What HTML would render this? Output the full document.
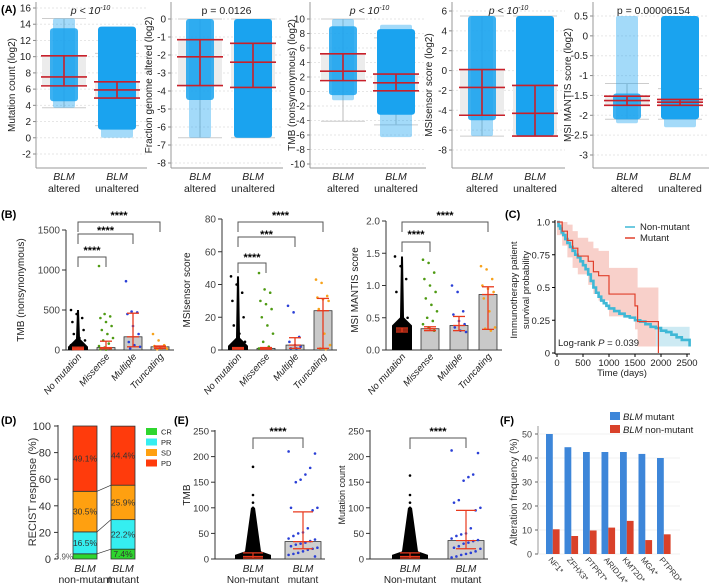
<!DOCTYPE html>
<html><head><meta charset="utf-8">
<style>
html,body{margin:0;padding:0;background:#fff;}
svg{display:block;font-family:"Liberation Sans",Arial,sans-serif;}
</style></head>
<body>
<svg id="fig" width="709" height="586" viewBox="0 0 709 586" xmlns="http://www.w3.org/2000/svg"></svg>
<script>
// ===== Panel A data: [whiskerLo, q1, median, q3, whiskerHi, pointsLo, pointsHi]
const aTitles = ["Mutation count (log2)","Fraction genome altered (log2)","TMB (nonsynonymous) (log2)","MSIsensor score (log2)","MSI MANTIS score (log2)"];
const aPvals = ["p < 10","p = 0.0126","p < 10","p < 10","p = 0.00006154"];
const aAltered = [[3.7,6.4,7.5,10.1,14.7,3.7,14.7],[-6.6,-3.7,-2.1,-1.15,0,-6.6,0],[-4.1,1.5,2.8,5.2,10,-1.2,10],[-6.6,-4.5,-1.7,0.1,5.5,-6.6,5.5],[-2.1,-1.75,-1.63,-1.52,-1.2,-2.2,0.5]];
const aUnaltered = [[1.5,4.9,5.9,6.9,10.4,0,13.7],[-6.6,-3.8,-2.4,-1.35,0,-6.6,0],[-4.6,0.1,1.2,2.4,7.4,-6.3,9.2],[-6.6,-6.6,-4.3,-1.5,5.5,-6.6,5.5],[-2.1,-1.75,-1.67,-1.6,-1.33,-2.3,0.5]];
const aAltDense = [[4.5,13.5],[-4.5,0],[-0.5,9],[-5,5.5],[-2.1,-1.45]];
const aUnDense = [[1,13.7],[-6.6,0],[-3.2,8.6],[-6.6,5.5],[-2.1,0.5]];
const aTicks = [[-2,0,2,4,6,8,10,12,14,16],[-8,-7,-6,-5,-4,-3,-2,-1,0],[-10,-8,-6,-4,-2,0,2,4,6,8,10],[-8,-6,-4,-2,0,2,4,6],[-3,-2.5,-2,-1.5,-1,-0.5,0,0.5]];
// ===== Panel B data
const bCats = ["No mutation","Missense","Multiple","Truncating"];
const b1Bars = [20,30,165,40], b1ErrLo=[5,15,40,20], b1ErrHi=[35,110,460,50];
const b2Bars = [1,1,3,24], b2ErrLo=[0.5,0.5,1,1], b2ErrHi=[1.5,1.5,7.5,31.5];
const b3Bars = [0.31,0.33,0.38,0.86], b3ErrLo=[0.28,0.3,0.3,0.32], b3ErrHi=[0.34,0.36,0.52,0.98];
const b1Dots = [[500,450,400,350,300,250,200,150,120,100,80,60,40,20,10],[1050,450,420,400,350,300,250,200,150,120,80,50,30,20,10,5],[860,480,470,450,300,200,100,60,40,20],[200,120,60,50,40,30,25,20,15,10]];
const b2Dots = [[45,40,35,30,25,20,15,10,5,2],[47,37,35,30,28,25,20,15,10,5,2,1],[27,23,8,5,3,2,1,1],[43,41,33,32,31,30,25,10,3,1,0.5]];
const b3Dots = [[1.45,1.3,1.1,0.9,0.7,0.5,0.4,0.2],[1.4,1.35,1.2,1.1,1.0,0.9,0.8,0.7,0.6,0.5,0.45,0.4,0.35,0.3],[1.0,0.9,0.6,0.55,0.45,0.4,0.35,0.3,0.28],[1.3,1.25,1.1,1.0,0.95,0.9,0.8,0.6,0.35,0.33,0.3]];
const bBlackTop = [500,45,1.45], bBlackBase=[40,2.5,0.38];
// ===== Panel C data
const cNonT = [0,30,60,90,120,160,200,250,300,350,400,450,500,550,600,650,700,750,800,850,900,950,1000,1100,1200,1300,1400,1500,1600,1700,1800,1900,2000,2100,2200,2300,2400,2550];
const cNonS = [1,0.97,0.95,0.92,0.9,0.87,0.84,0.81,0.78,0.75,0.73,0.7,0.67,0.64,0.6,0.55,0.5,0.46,0.43,0.4,0.38,0.36,0.34,0.32,0.3,0.28,0.27,0.25,0.24,0.22,0.2,0.19,0.17,0.16,0.14,0.12,0.1,0.05];
const cMutT = [0,100,200,300,400,600,700,800,1000,1500,1550,1950];
const cMutS = [1,0.93,0.86,0.8,0.74,0.7,0.62,0.59,0.45,0.36,0.24,0];
const cMutLo = [0.9,0.82,0.73,0.65,0.6,0.52,0.45,0.4,0.28,0.18,0.05,0];
const cMutHi = [1,1,0.98,0.93,0.88,0.85,0.8,0.78,0.65,0.65,0.5,0.5];
// ===== Panel D data
const dGroups = ["non-mutant","mutant"];
const dCR = [3.9,7.4], dPR=[16.5,22.2], dSD=[30.5,25.9], dPD=[49.1,44.4];
// ===== Panel E data
const e1Bar = [5,34], e1Lo=[2,20], e1Hi=[12,92];
const e1Mut = [210,206,178,165,155,150,100,100,95,60,52,50,45,40,38,35,32,30,28,25,22,20,18,15,12,10,8,5];
const e2Bar = [5,36], e2Lo=[2,20], e2Hi=[12,95];
const e2Mut = [212,207,165,160,153,115,110,100,95,60,50,48,45,40,37,35,32,30,25,22,20,15,12,10,8,5,3];
const e1NonTail=[180,125,110,100,90,80,70,60,50,40], e2NonTail=[163,125,110,100,90,80,70,60,50,40];
// ===== Panel F data
const fGenes = ["NF1*","ZFHX3*","PTPRT*","ARID1A*","KMT2D*","MGA*","PTPRD*"];
const fMut = [50,44.5,42.5,42.5,42.5,41.7,40];
const fNon = [10.3,7.5,9.8,11,13.8,5.8,8.2];
const fTicks=[0,10,20,30,40,50];

const NS="http://www.w3.org/2000/svg";
const svg=document.getElementById('fig');
function el(tag,attrs,parent,text){const e=document.createElementNS(NS,tag);for(const k in attrs)e.setAttribute(k,attrs[k]);if(text!==undefined)e.textContent=text;(parent||svg).appendChild(e);return e;}
function lin(d0,d1,r0,r1){return v=>r0+(v-d0)*(r1-r0)/(d1-d0);}
function grp(name){const g=el('g',{});return g;}
function txt(p,x,y,s,opt){opt=opt||{};const t=el('text',{x:x,y:y,'font-size':opt.fs||10,'text-anchor':opt.a||'middle',fill:opt.fill||'#222'},p,s);if(opt.it)t.setAttribute('font-style','italic');if(opt.fw)t.setAttribute('font-weight',opt.fw);if(opt.rot)t.setAttribute('transform','rotate('+opt.rot+' '+x+' '+y+')');return t;}
function panelLabel(s,x,y){const t=txt(svg,x,y,s,{a:'start',fs:11,fw:'bold',fill:'#000'});}

// ===== Panel A
panelLabel('(A)',1,13);
const aCfg=[{ax:36,lx:15,dom:[16,-2],rng:[8,154],c:[64,117]},{ax:171,lx:152,dom:[0,-8],rng:[19,163],c:[200,253]},{ax:310,lx:295,dom:[10,-10],rng:[19,164],c:[343,396]},{ax:452,lx:432,dom:[6,-8],rng:[11,150],c:[482,535]},{ax:593,lx:571,dom:[0.5,-3],rng:[16,155],c:[627,680]}];
aCfg.forEach((cf,i)=>{
  const g=grp('panel-a-plot-'+(i+1));
  const y=lin(cf.dom[0],cf.dom[1],cf.rng[0],cf.rng[1]);
  const x0=cf.ax, x1=Math.max(cf.ax+106,cf.c[1]+30), yb=168;
  aTicks[i].forEach(t=>{el('line',{x1:x0,x2:x1,y1:y(t),y2:y(t),stroke:'#e6e6e6','stroke-dasharray':'2,2'},g);el('line',{x1:x0-3,x2:x0,y1:y(t),y2:y(t),stroke:'#888'},g);txt(g,x0-5,y(t)+3.5,String(t),{a:'end',fs:10});});
  el('line',{x1:x0,x2:x0,y1:2,y2:yb,stroke:'#999'},g);
  el('line',{x1:x0,x2:x1,y1:yb,y2:yb,stroke:'#999'},g);
  [aAltered[i],aUnaltered[i]].forEach((s,k)=>{
    const cx=cf.c[k], w=k?38:28, dn=k?aUnDense[i]:aAltDense[i];
    el('rect',{x:cx-22,y:y(s[3]),width:44,height:y(s[1])-y(s[3]),fill:'#ececec'},g);
    el('line',{x1:cx,x2:cx,y1:y(s[0]),y2:y(s[4]),stroke:'#bbb'},g);
    el('line',{x1:cx-22,x2:cx+22,y1:y(s[0]),y2:y(s[0]),stroke:'#ccc'},g);
    el('line',{x1:cx-22,x2:cx+22,y1:y(s[4]),y2:y(s[4]),stroke:'#ccc'},g);
    el('rect',{x:cx-w/2+3,y:y(s[6]),width:w-6,height:y(s[5])-y(s[6]),fill:'#1aa3ef',rx:2,opacity:0.4},g);
    const pts=el('rect',{x:cx-w/2,y:y(dn[1]),width:w,height:y(dn[0])-y(dn[1]),fill:'#1aa3ef',rx:3,opacity:k?1:0.85},g);
    
    [s[1],s[2],s[3]].forEach(v=>el('line',{x1:cx-23,x2:cx+23,y1:y(v),y2:y(v),stroke:'#c8202a','stroke-width':1.6},g));
    el('line',{x1:cx,x2:cx,y1:y(s[3]),y2:y(s[1]),stroke:'#c8202a','stroke-width':1.6},g);
    txt(g,cx,180,'BLM',{it:1,fs:10.5});
    txt(g,cx,192,k?'unaltered':'altered',{fs:10.5});
  });
  txt(g,cf.lx,85,aTitles[i],{rot:-90,fs:10});
  const pt=txt(g,(cf.c[0]+cf.c[1])/2,14,aPvals[i],{fs:10.5});
  if(aPvals[i]==='p < 10'){pt.setAttribute('font-style','italic');el('tspan',{dy:-4,'font-size':7},pt,'-10');}
});

// ===== Panel B
panelLabel('(B)',1,218);
const bCfg=[{ax:66,dom:[0,1500],rng:[350,230],ticks:[0,500,1000,1500],c:[78,106,133,160],bars:b1Bars,lo:b1ErrLo,hi:b1ErrHi,dots:b1Dots,lab:'TMB (nonsynonymous)',lx:24,
  br:[[3,213,222,'****'],[2,228,234,'****'],[1,248,257,'****']]},
 {ax:222,dom:[0,80],rng:[350,219],ticks:[0,20,40,60,80],c:[238,266,295,323],bars:b2Bars,lo:b2ErrLo,hi:b2ErrHi,dots:b2Dots,lab:'MSIsensor score',lx:190,
  br:[[3,213,222,'****'],[2,232,237,'***'],[1,255,263,'****']]},
 {ax:386,dom:[0,2],rng:[350,221],ticks:[0,0.5,1,1.5,2],tf:['0.0','0.5','1.0','1.5','2.0'],c:[402,430,459,488],bars:b3Bars,lo:b3ErrLo,hi:b3ErrHi,dots:b3Dots,lab:'MSI MANTIS score',lx:358,
  br:[[3,213,222,'****'],[1,232,242,'****']]}];
const dotCol=['#000','#4e9a12','#2a3fd6','#f7a21b'];
bCfg.forEach((cf,i)=>{
  const g=grp('panel-b-plot-'+(i+1));
  const y=lin(cf.dom[0],cf.dom[1],cf.rng[0],cf.rng[1]);
  el('line',{x1:cf.ax,x2:cf.ax,y1:cf.rng[1],y2:350,stroke:'#333'},g);
  el('line',{x1:cf.ax,x2:cf.c[3]+14,y1:350,y2:350,stroke:'#333'},g);
  cf.ticks.forEach((t,j)=>{el('line',{x1:cf.ax-4,x2:cf.ax,y1:y(t),y2:y(t),stroke:'#333'},g);txt(g,cf.ax-6,y(t)+3.5,cf.tf?cf.tf[j]:String(t),{a:'end',fs:10,fill:'#444'});});
  cf.c.forEach((cx,k)=>{
    const b=el('rect',{x:cx-9,y:y(cf.bars[k]),width:18,height:350-y(cf.bars[k]),fill:'#c9c9c9',stroke:'#333','stroke-width':0.8},g);
    
    if(k===0){
      const yb=y(bBlackBase[i]), yt=y(bBlackTop[i]);
      el('path',{d:`M${cx-10},350V${yb}L${cx-2},${yb-8}L${cx-1},${yt}H${cx+1}L${cx+2},${yb-8}L${cx+10},${yb}V350Z`,fill:'#000'},g);
    }
    cf.dots[k].forEach((v,j)=>{const jx=(((j*37)%11)-5)*1.4;el('circle',{cx:cx+jx,cy:y(v),r:1.3,fill:dotCol[k]},g);});
    el('line',{x1:cx,x2:cx,y1:y(cf.hi[k]),y2:y(cf.lo[k]),stroke:'#e8391d','stroke-width':1.3},g);
    [cf.hi[k],cf.lo[k]].forEach(v=>el('line',{x1:cx-6,x2:cx+6,y1:y(v),y2:y(v),stroke:'#e8391d','stroke-width':1.3},g));
    el('line',{x1:cx-6,x2:cx+6,y1:y(cf.bars[k]),y2:y(cf.bars[k]),stroke:'#e8391d','stroke-width':1.3},g);
    txt(g,cx+4,357,bCats[k],{a:'end',it:1,fs:9.5,rot:-48});
  });
  cf.br.forEach(b=>{const x1=cf.c[0],x2=cf.c[b[0]];el('path',{d:`M${x1},${b[2]+10}V${b[2]}H${x2}V${b[2]+10}`,fill:'none',stroke:'#555'},g);txt(g,(x1+x2)/2,b[1]+6,b[3],{fs:11,fw:'bold',fill:'#000'});});
  txt(g,cf.lx,290,cf.lab,{rot:-90,fs:10});
});

// ===== Panel C
panelLabel('(C)',505,218);
(function(){
  const g=grp('panel-c-survival');
  const x=lin(0,2500,557,687), y=lin(0,1,353,222);
  function step(T,S){let d=`M${x(T[0])},${y(S[0])}`;for(let i=1;i<T.length;i++){d+=`H${x(T[i])}V${y(S[i])}`;}return d;}
  let up=`M${x(cMutT[0])},${y(cMutHi[0])}`;for(let i=1;i<cMutT.length;i++)up+=`H${x(cMutT[i])}V${y(cMutHi[i])}`;
  let lo='';for(let i=cMutT.length-1;i>=0;i--){lo+=`V${y(cMutLo[i])}H${x(cMutT[i])}`;}
  el('path',{d:up+`H${x(1950)}`+lo+'Z',fill:'#f6c4bd',opacity:0.8},g);
  el('rect',{x:x(1900),y:y(0.2),width:x(2550)-x(1900),height:y(0.05)-y(0.2),fill:'#cdeaf3'},g);
  const pn=el('path',{d:step(cNonT,cNonS),fill:'none',stroke:'#3fb8d6','stroke-width':2.6},g);
  
  const pm=el('path',{d:step(cMutT,cMutS),fill:'none',stroke:'#e0402c','stroke-width':1.2},g);
  
  el('line',{x1:555,x2:555,y1:220,y2:354,stroke:'#000'},g);
  el('line',{x1:555,x2:690,y1:354,y2:354,stroke:'#000'},g);
  [[0,'0'],[0.25,'0.25'],[0.5,'0.5'],[0.75,'0.75'],[1,'1.0']].forEach(t=>{el('line',{x1:552,x2:555,y1:y(t[0]),y2:y(t[0]),stroke:'#000'},g);txt(g,550,y(t[0])+3.5,t[1],{a:'end',fs:9.5});});
  [0,500,1000,1500,2000,2500].forEach(t=>{el('line',{x1:x(t),x2:x(t),y1:354,y2:357,stroke:'#000'},g);txt(g,x(t),366,String(t),{fs:9.5});});
  txt(g,622,376,'Time (days)',{fs:9.5});
  txt(g,517,290,'Immunotherapy patient',{rot:-90,fs:9.5});
  txt(g,529,290,'survival probability',{rot:-90,fs:9.5});
  el('line',{x1:625,x2:635,y1:227,y2:227,stroke:'#3fb8d6','stroke-width':1.5},g);txt(g,640,230,'Non-mutant',{a:'start',fs:9.5});
  el('line',{x1:625,x2:635,y1:238,y2:238,stroke:'#e0402c','stroke-width':1.5},g);txt(g,640,241,'Mutant',{a:'start',fs:9.5});
  const lr=txt(g,558,346,'Log-rank ',{a:'start',fs:9.5});el('tspan',{'font-style':'italic'},lr,'P');el('tspan',{},lr,' = 0.039');
})();

// ===== Panel D
panelLabel('(D)',1,424);
(function(){
  const g=grp('panel-d-recist');
  const y=lin(0,100,559,426), cxs=[85,123];
  el('line',{x1:58,x2:58,y1:425,y2:559,stroke:'#333'},g);
  [0,20,40,60,80,100].forEach(t=>{el('line',{x1:54,x2:58,y1:y(t),y2:y(t),stroke:'#333'},g);txt(g,51,y(t)+4,String(t),{a:'end',fs:11,fill:'#333'});});
  txt(g,36,492,'RECIST response (%)',{rot:-90,fs:11,fill:'#333'});
  const cols=['#2ed62e','#35eef0','#ffa010','#ff3b0c'], names=['CR','PR','SD','PD'];
  const series=[dCR,dPR,dSD,dPD];
  const tops=[[],[]];
  cxs.forEach((cx,k)=>{let acc=0;series.forEach((s,j)=>{const r=el('rect',{x:cx-12,y:y(acc+s[k]),width:24,height:y(acc)-y(acc+s[k]),fill:cols[j],stroke:'#333','stroke-width':0.8},g);
    
    const mid=(y(acc)+y(acc+s[k]))/2;
    if(j===0&&k===0)txt(g,cx-12,mid+3,s[k]+'%',{a:'end',fs:8,fill:'#555'});else txt(g,cx,mid+3,s[k]+'%',{fs:8.5,fill:'#333'});
    acc+=s[k];tops[k].push(acc);});
    txt(g,cx,572,'BLM',{it:1,fs:10.5});txt(g,cx,583,dGroups[k],{fs:10.5});});
  for(let j=0;j<3;j++)el('line',{x1:cxs[0]+12,x2:cxs[1]-12,y1:y(tops[0][j]),y2:y(tops[1][j]),stroke:'#333','stroke-width':0.7},g);
  names.forEach((n,j)=>{el('rect',{x:146,y:428+j*10.5,width:11,height:7,fill:cols[j]},g);txt(g,161,434.5+j*10.5,n,{a:'start',fs:7.5});});
})();

// ===== Panel E
panelLabel('(E)',174,424);
function drawE(name,ax,cx,bar,lo,hi,mut,tail,lab,lx){
  const g=grp(name);
  const y=lin(0,250,559,431);
  el('line',{x1:ax,x2:ax,y1:430,y2:559,stroke:'#333'},g);
  el('line',{x1:ax,x2:cx[1]+22,y1:559,y2:559,stroke:'#333'},g);
  [0,50,100,150,200,250].forEach(t=>{el('line',{x1:ax-4,x2:ax,y1:y(t),y2:y(t),stroke:'#333'},g);txt(g,ax-6,y(t)+3.5,String(t),{a:'end',fs:9.5,fill:'#333'});});
  txt(g,lx,495,lab,{rot:-90,fs:lab==='TMB'?10:9});
  el('rect',{x:cx[1]-18,y:y(bar[1]),width:36,height:559-y(bar[1]),fill:'#cfcfcf',stroke:'#333','stroke-width':0.8},g);
  el('path',{d:`M${cx[0]-18},559V${y(8)}L${cx[0]-8},${y(15)}L${cx[0]-2},${y(100)}H${cx[0]+2}L${cx[0]+8},${y(15)}L${cx[0]+18},${y(8)}V559Z`,fill:'#000'},g);
  tail.forEach(v=>el('circle',{cx:cx[0],cy:y(v),r:1.3,fill:'#000'},g));
  mut.forEach((v,j)=>{const jx=(((j*37)%13)-6)*2.4;el('circle',{cx:cx[1]+jx,cy:y(v),r:1.3,fill:'#2a3fd6'},g);});
  [0,1].forEach(k=>{el('line',{x1:cx[k],x2:cx[k],y1:y(hi[k]),y2:y(lo[k]),stroke:'#e8391d','stroke-width':1.2},g);
    [hi[k],lo[k],bar[k]].forEach(v=>el('line',{x1:cx[k]-10,x2:cx[k]+10,y1:y(v),y2:y(v),stroke:'#e8391d','stroke-width':1.2},g));
    txt(g,cx[k],572,'BLM',{it:1,fs:10});txt(g,cx[k],583,k?'mutant':'Non-mutant',{fs:10});});
  el('path',{d:`M${cx[0]},449V438H${cx[1]}V448`,fill:'none',stroke:'#555'},g);
  txt(g,(cx[0]+cx[1])/2,435,'****',{fs:11,fw:'bold',fill:'#000'});
}
drawE('panel-e-tmb',215,[253,303],e1Bar,e1Lo,e1Hi,e1Mut,e1NonTail,'TMB',190);
drawE('panel-e-mutation-count',370,[410,466],e2Bar,e2Lo,e2Hi,e2Mut,e2NonTail,'Mutation count',345);

// ===== Panel F
panelLabel('(F)',500,424);
(function(){
  const g=grp('panel-f-alteration');
  const y=lin(0,50,554,434), x=i=>546+i*18.5;
  el('line',{x1:538,x2:538,y1:426,y2:554,stroke:'#999'},g);
  el('line',{x1:538,x2:680,y1:554,y2:554,stroke:'#999'},g);
  fTicks.forEach(t=>{el('line',{x1:535,x2:538,y1:y(t),y2:y(t),stroke:'#666'},g);el('line',{x1:538,x2:680,y1:y(t),y2:y(t),stroke:'#f1f1f1'},g);txt(g,532,y(t)+3.5,String(t),{a:'end',fs:9,fill:'#444'});});
  txt(g,517,492,'Alteration frequency (%)',{rot:-90,fs:10,fill:'#333'});
  fGenes.forEach((gn,i)=>{
    const b1=el('rect',{x:x(i),y:y(fMut[i]),width:6.8,height:554-y(fMut[i]),fill:'#3d86d9'},g);
    
    const b2=el('rect',{x:x(i)+6.8,y:y(fNon[i]),width:6.8,height:554-y(fNon[i]),fill:'#d9412a'},g);
    
    txt(g,x(i)+2,560,gn,{a:'start',fs:8,rot:50,fill:'#333'});
  });
  el('rect',{x:610,y:412,width:10,height:8,fill:'#3d86d9'},g);
  const t1=txt(g,623,420,'BLM',{a:'start',it:1,fs:9.5});el('tspan',{'font-style':'normal'},t1,' mutant');
  el('rect',{x:610,y:425,width:10,height:8,fill:'#d9412a'},g);
  const t2=txt(g,623,433,'BLM',{a:'start',it:1,fs:9.5});el('tspan',{'font-style':'normal'},t2,' non-mutant');
})();
</script>
</body></html>
